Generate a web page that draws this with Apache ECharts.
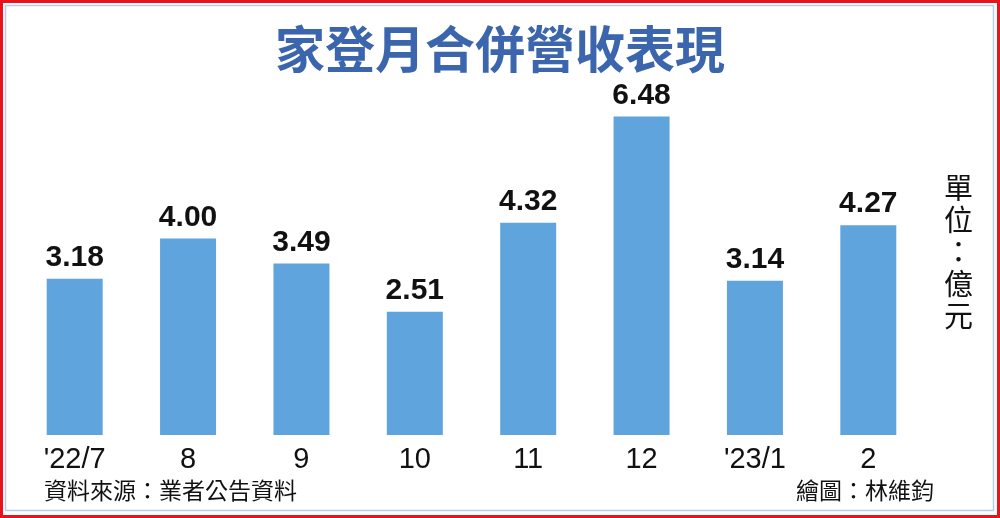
<!DOCTYPE html>
<html><head><meta charset="utf-8">
<script src="https://cdn.jsdelivr.net/npm/echarts@6/dist/echarts.min.js"></script>
<style>html,body{margin:0;padding:0;background:#fff}#c{width:1000px;height:518px}</style>
</head><body><div id="c"></div>
<script>
const categories = ["'22/7", "8", "9", "10", "11", "12", "'23/1", "2"];
const revenue = [3.18, 4.00, 3.49, 2.51, 4.32, 6.48, 3.14, 4.27];
const titleText = "家登月合併營收表現";
const sourceText = "資料來源：業者公告資料";
const creditText = "繪圖：林維鈞";
const unitText = "單\n位\n：\n億\n元";

const chart = echarts.init(document.getElementById('c'));
chart.setOption({
  animation: false,
  backgroundColor: '#fff',
  title: {
    text: titleText, left: 'center', top: 19,
    textStyle: { fontFamily: 'Noto Sans CJK TC', fontSize: 50, fontWeight: 'bold', color: '#3b66ad' }
  },
  graphic: [
    { type: 'rect', shape: { x: 1.5, y: 1.5, width: 997, height: 515 }, style: { fill: 'none', stroke: '#e8141c', lineWidth: 3 } },
    { type: 'rect', shape: { x: 5.5, y: 5.5, width: 988, height: 505 }, style: { fill: 'none', stroke: '#b7cde6', lineWidth: 1.5 } },
    { type: 'text', left: 44, top: 479, style: { text: sourceText, font: '23px "Noto Sans CJK TC"', fill: '#111' } },
    { type: 'text', left: 796, top: 479, style: { text: creditText, font: '23px "Noto Sans CJK TC"', fill: '#111' } },
    { type: 'text', left: 944, top: 172, style: { text: unitText, font: '29px "Noto Sans CJK TC"', fill: '#111', lineHeight: 32, align: 'center' } }
  ],
  grid: { left: 18, width: 907, top: 91, height: 344 },
  xAxis: {
    type: 'category', data: categories,
    axisLine: { show: false }, axisTick: { show: false },
    axisLabel: { margin: 10, fontSize: 29, fontFamily: 'Liberation Sans', color: '#111', fontWeight: 'normal' }
  },
  yAxis: { type: 'value', min: 0, max: 7, show: false, splitLine: { show: false } },
  series: [{
    type: 'bar', data: revenue, barWidth: 56,
    itemStyle: { color: '#5fa4dd' },
    label: { show: true, position: 'top', distance: 6, formatter: p => p.value.toFixed(2),
      fontSize: 30, fontWeight: 'bold', fontFamily: 'Liberation Sans', color: '#111' }
  }]
});
</script></body></html>
